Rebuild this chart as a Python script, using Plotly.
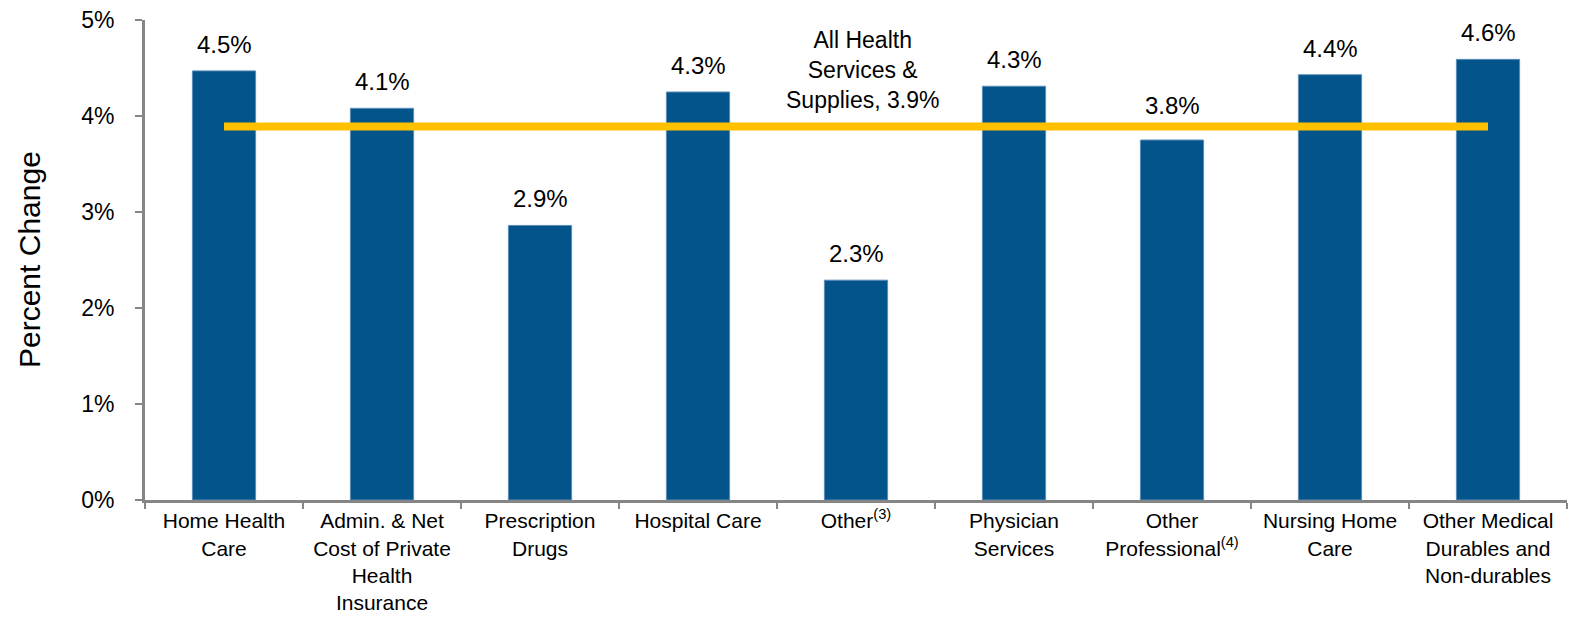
import plotly.graph_objects as go

categories = [
    "Home Health<br>Care",
    "Admin. & Net<br>Cost of Private<br>Health<br>Insurance",
    "Prescription<br>Drugs",
    "Hospital Care",
    "Other<sup>(3)</sup>",
    "Physician<br>Services",
    "Other<br>Professional<sup>(4)</sup>",
    "Nursing Home<br>Care",
    "Other Medical<br>Durables and<br>Non-durables",
]
values = [4.47, 4.08, 2.86, 4.25, 2.29, 4.31, 3.75, 4.43, 4.59]
value_labels = ["4.5%", "4.1%", "2.9%", "4.3%", "2.3%", "4.3%", "3.8%", "4.4%", "4.6%"]
all_health_value = 3.89
all_health_label = "All Health<br>Services &<br>Supplies, 3.9%"
y_ticks = [0, 1, 2, 3, 4, 5]
y_tick_labels = ["0%", "1%", "2%", "3%", "4%", "5%"]
y_title = "Percent Change"

FONT = "Liberation Sans, Arial, sans-serif"
idx = list(range(len(categories)))

fig = go.Figure()
fig.add_trace(go.Bar(
    x=idx, y=values,
    marker=dict(color="#02548A", line=dict(color="#5A8DB8", width=1)),
    width=0.4,
    hoverinfo="skip",
))
fig.add_trace(go.Scatter(
    x=[idx[0], idx[-1]], y=[all_health_value, all_health_value],
    mode="lines",
    line=dict(color="#FFC000", width=8),
    hoverinfo="skip",
))

# the "Other Professional" label is lifted clear of the average line, as in the original
extra_lift = {6: 8}
for i, v, lab in zip(idx, values, value_labels):
    fig.add_annotation(x=i, y=v, text=lab, showarrow=False, yanchor="bottom",
                       yshift=11 + extra_lift.get(i, 0),
                       font=dict(family=FONT, size=24, color="#000000"))

fig.add_annotation(x=4, y=all_health_value, text=all_health_label, showarrow=False,
                   yanchor="bottom", yshift=12, xshift=6,
                   font=dict(family=FONT, size=23, color="#000000"))

# y-axis title as rotated annotation
fig.add_annotation(xref="paper", yref="paper", x=0, y=0.5, xanchor="center", yanchor="middle",
                   xshift=-116, text=y_title, textangle=-90, showarrow=False,
                   font=dict(family=FONT, size=30, color="#000000"))

fig.update_layout(
    width=1572, height=619,
    margin=dict(l=145, r=5, t=20, b=119, autoexpand=False),
    paper_bgcolor="white", plot_bgcolor="white",
    showlegend=False,
    font=dict(family=FONT, color="#000000"),
)
fig.update_xaxes(
    range=[-0.5, 8.5], automargin=False,
    tickmode="array", tickvals=idx, ticktext=categories,
    tickfont=dict(family=FONT, size=21, color="#000000"),
    showline=True, linecolor="#868686", linewidth=3,
    ticks="", showgrid=False, zeroline=False,
    minor=dict(tickmode="array", tickvals=[i - 0.5 for i in range(len(categories) + 1)],
               ticks="outside", ticklen=6, tickcolor="#868686", tickwidth=2, showgrid=False),
)
fig.update_yaxes(
    range=[0, 5], automargin=False,
    tickmode="array", tickvals=y_ticks, ticktext=y_tick_labels,
    tickfont=dict(family=FONT, size=23, color="#000000"),
    showline=True, linecolor="#868686", linewidth=3,
    ticks="outside", ticklen=7, tickcolor="#868686", tickwidth=2,
    ticklabelstandoff=16,
    showgrid=False, zeroline=False,
)

fig.write_html("out.html", config={"displayModeBar": False})

# remove default page margin so the figure sits at the window origin
with open("out.html", "r", encoding="utf-8") as f:
    html = f.read()
html = html.replace("<head>", "<head><style>html,body{margin:0;padding:0;overflow:hidden;}</style>", 1)
with open("out.html", "w", encoding="utf-8") as f:
    f.write(html)
